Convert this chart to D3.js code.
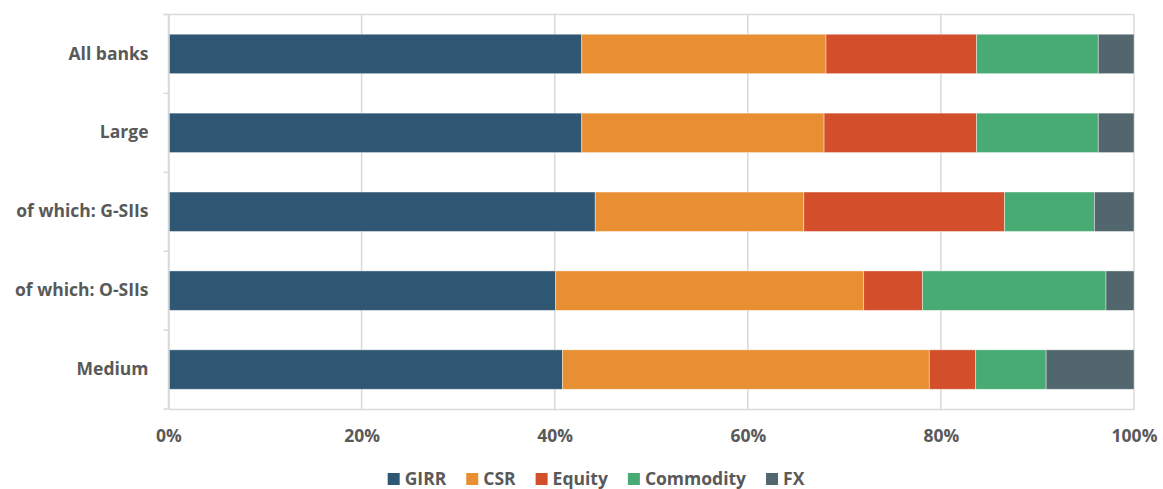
<!DOCTYPE html>
<html>
<head>
<meta charset="utf-8">
<script src="https://cdn.jsdelivr.net/npm/d3@7"></script>
<style>
  body { margin: 0; background: #fff; }
  text { font-family: "Open Sans", "Noto Sans", sans-serif; fill: #595959; }
</style>
</head>
<body>
<svg id="chart"></svg>
<script>
// categories and series (shares in %)
const categories = ["All banks", "Large", "of which: G-SIIs", "of which: O-SIIs", "Medium"];
const seriesNames = ["GIRR", "CSR", "Equity", "Commodity", "FX"];
const seriesColors = ["#2f5773", "#e88f33", "#d34f2b", "#48ab74", "#51666d"];

const girr = [42.8, 42.8, 44.2, 40.1, 40.8];
const csr = [25.3, 25.1, 21.6, 31.9, 38.0];
const equity = [15.6, 15.8, 20.8, 6.1, 4.8];
const commodity = [12.6, 12.6, 9.3, 19.0, 7.3];
const fx = [3.7, 3.7, 4.1, 2.9, 9.1];

const xTicks = [0, 0.2, 0.4, 0.6, 0.8, 1];

// Build table
const table = categories.map(function(c, i) {
    const row = { name: c, GIRR: girr[i], CSR: csr[i], Equity: equity[i], Commodity: commodity[i], FX: fx[i] };
    const total = girr[i] + csr[i] + equity[i] + commodity[i] + fx[i];
    seriesNames.forEach(k => row[k] = row[k] / total);
    return row;
});

const width = 1163, height = 489;
const margin = { top: 14.5, right: 29, bottom: 80, left: 168.5 };
const plotW = width - margin.left - margin.right;
const plotH = height - margin.top - margin.bottom;

const svg = d3.select("#chart")
    .attr("width", width)
    .attr("height", height);

const g = svg.append("g")
    .attr("transform", "translate(" + margin.left + "," + margin.top + ")");

const xScale = d3.scaleLinear().domain([0, 1]).range([0, plotW]);
const yScale = d3.scaleBand().domain(categories).range([0, plotH]).paddingInner(0.5).paddingOuter(0.25);

// gridlines
g.selectAll(".grid")
    .data(xTicks)
    .enter().append("line")
    .attr("x1", d => xScale(d))
    .attr("x2", d => xScale(d))
    .attr("y1", 0)
    .attr("y2", plotH)
    .attr("stroke", "#d9d9d9")
    .attr("stroke-width", 1.5);

// top border
g.append("line")
    .attr("x1", -5).attr("x2", plotW)
    .attr("y1", 0).attr("y2", 0)
    .attr("stroke", "#d9d9d9").attr("stroke-width", 1.5);

// stacked bars
const stack = d3.stack().keys(seriesNames);
const layers = stack(table);

g.selectAll(".layer")
    .data(layers)
    .enter().append("g")
    .attr("fill", (d, i) => seriesColors[i])
    .selectAll("rect")
    .data(d => d)
    .enter().append("rect")
    .attr("x", d => xScale(d[0]))
    .attr("y", d => yScale(d.data.name))
    .attr("width", d => xScale(d[1]) - xScale(d[0]))
    .attr("height", yScale.bandwidth())
    .attr("stroke", "#ffffff")
    .attr("stroke-opacity", 0.5)
    .attr("stroke-width", 0.8);

// y axis
const yAxis = g.append("g")
    .call(d3.axisLeft(yScale).tickSize(0).tickPadding(20));
yAxis.select(".domain").attr("stroke", "#d9d9d9").attr("stroke-width", 1.5);
yAxis.selectAll("text")
    .attr("font-size", "17.5px")
    .attr("font-weight", 700)
    .style("font-family", "'Open Sans', sans-serif")
    .attr("fill", "#595959");

// category separator ticks
const step = yScale.step();
g.selectAll(".sep")
    .data(d3.range(0, categories.length + 1))
    .enter().append("line")
    .attr("x1", -5).attr("x2", 0)
    .attr("y1", d => d * step)
    .attr("y2", d => d * step)
    .attr("stroke", "#d9d9d9")
    .attr("stroke-width", 1.5);

// x axis
const xAxis = g.append("g")
    .attr("transform", "translate(0," + plotH + ")")
    .call(d3.axisBottom(xScale).tickValues(xTicks).tickFormat(d3.format(".0%")).tickSize(0).tickPadding(21));
xAxis.select(".domain").attr("stroke", "#d9d9d9").attr("stroke-width", 1.5);
xAxis.selectAll("text")
    .attr("font-size", "17.5px")
    .attr("font-weight", 700)
    .style("font-family", "'Open Sans', sans-serif")
    .attr("fill", "#595959");

// legend, laid out from measured text widths and centred
const legend = svg.append("g").attr("transform", "translate(0,479)");
let lx = 0;
seriesNames.forEach(function(name, i) {
    const item = legend.append("g").attr("transform", "translate(" + lx + ",0)");
    item.append("rect")
        .attr("x", 0)
        .attr("y", -6)
        .attr("width", 12)
        .attr("height", 12)
        .attr("fill", seriesColors[i]);
    const t = item.append("text")
        .attr("x", 17)
        .attr("y", 0)
        .attr("dy", "0.35em")
        .attr("font-size", "17.5px")
        .attr("font-weight", 700)
        .text(name);
    lx += 17 + t.node().getComputedTextLength() + 20;
});
const legendSpan = lx - 20;
legend.attr("transform", "translate(" + (596 - legendSpan / 2) + ",479)");
</script>
</body>
</html>
